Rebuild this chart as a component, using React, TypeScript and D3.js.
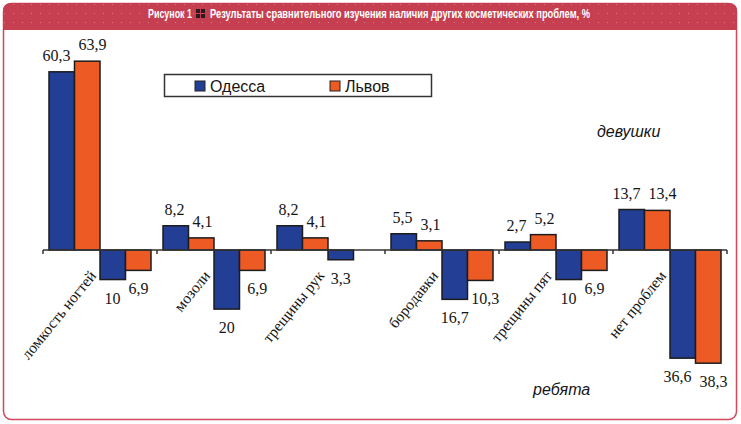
import React from "react";
import * as d3 from "d3";

// categories along the axis
const categories = [
  "ломкость ногтей",
  "мозоли",
  "трещины рук",
  "бородавки",
  "трещины пят",
  "нет проблем",
];
// girls (drawn upward)
const girlsOdessa = [60.3, 8.2, 8.2, 5.5, 2.7, 13.7];
const girlsLviv = [63.9, 4.1, 4.1, 3.1, 5.2, 13.4];
// boys (drawn downward)
const boysOdessa = [10, 20, 3.3, 16.7, 10, 36.6];
const boysLviv = [6.9, 6.9, 0, 10.3, 6.9, 38.3];

const cities = ["Одесса", "Львов"];
const cityColors = ["#233e95", "#ee5a24"];

const W = 741;
const H = 424;
const SERIF = "'Times New Roman', 'Liberation Serif', Times, 'DejaVu Serif', serif";

const fmt = (v: number) => String(v).replace(".", ",");
const labelWidth = (s: string) =>
  s.split("").reduce((a, c) => a + (c === "," ? 4 : 8), 0);

export default function App() {
  const x = d3.scaleBand().domain(categories).range([43, 727]);
  const inner = d3
    .scaleBand()
    .domain(["go", "gl", "bo", "bl"])
    .range([0, x.bandwidth()])
    .paddingInner(0)
    .paddingOuter(0.235);
  const y = d3
    .scaleLinear()
    .domain([-40, 70])
    .range([250 + 40 * 2.955, 250 - 70 * 2.955]);
  const y0 = y(0);

  const series = [
    { key: "go", values: girlsOdessa, sign: 1, color: cityColors[0] },
    { key: "gl", values: girlsLviv, sign: 1, color: cityColors[1] },
    { key: "bo", values: boysOdessa, sign: -1, color: cityColors[0] },
    { key: "bl", values: boysLviv, sign: -1, color: cityColors[1] },
  ];

  const bars: any[] = [];
  const labels: any[] = [];
  categories.forEach((c, i) => {
    const pair = (a: any, b: any) => {
      const lab = [a, b].map((s) => {
        const v = s.values[i];
        if (!v) return null;
        const cx = (x(c) as number) + (inner(s.key) as number) + inner.bandwidth() / 2;
        const base = s.sign > 0 ? y(v) - 11 : y(-v) + 24;
        return { text: fmt(v), cx, base, w: labelWidth(fmt(v)) };
      });
      const [la, lb] = lab;
      if (la && lb) {
        if (Math.abs(la.base - lb.base) < 13) {
          // push overlapping neighbours apart
          const need = (la.w + lb.w) / 2 + 8;
          const sep = lb.cx - la.cx;
          if (sep < need) {
            const s = (need - sep) / 2;
            la.cx -= s;
            lb.cx += s;
          }
        } else if (a.sign < 0 && la.base > lb.base) {
          // shorter right bar: keep its label clear of the left bar
          lb.cx += 5;
        }
      }
      lab.forEach((l) => l && labels.push(l));
    };
    pair(series[0], series[1]);
    pair(series[2], series[3]);
    series.forEach((s) => {
      const v = s.values[i];
      if (!v) return;
      const sv = s.sign * v;
      bars.push({
        x: (x(c) as number) + (inner(s.key) as number),
        y: Math.min(y(sv), y0),
        h: Math.abs(y(sv) - y0),
        color: s.color,
      });
    });
  });

  const ticks = [...categories.map((c) => x(c) as number), 727];

  return (
    <div style={{ position: "absolute", left: 0, top: 0 }}>
      <svg width={W} height={H} style={{ display: "block", background: "#fff" }}>
        <defs>
          <pattern id="dots" width="9" height="9" patternUnits="userSpaceOnUse">
            <circle cx="4.5" cy="4.5" r="0.6" fill="#fff" opacity="0.35" />
          </pattern>
        </defs>
        {/* frame and header */}
        <rect x={3.5} y={3.5} width={733} height={416} rx={8} fill="#fff" stroke="#d24a5c" strokeWidth={1.5} />
        <path d="M3,30 V11 Q3,3 11,3 H729 Q737,3 737,11 V30 Z" fill="#c53f50" />
        <path d="M3,30 V11 Q3,3 11,3 H729 Q737,3 737,11 V30 Z" fill="url(#dots)" />
        <g fontFamily="'Liberation Sans Narrow', 'Liberation Sans', sans-serif" fontWeight="bold" fontSize={12.5} fill="#fff">
          <text x={148} y={18} textLength={44} lengthAdjust="spacingAndGlyphs">Рисунок 1</text>
          <text x={210} y={18} textLength={380} lengthAdjust="spacingAndGlyphs">
            Результаты сравнительного изучения наличия других косметических проблем, %
          </text>
        </g>
        <g fill="#2b1b1e">
          <rect x={196} y={9} width={4} height={4} />
          <rect x={201} y={9} width={4} height={4} />
          <rect x={196} y={14} width={4} height={4} />
          <rect x={201} y={14} width={4} height={4} />
        </g>

        {/* bars */}
        {bars.map((b, i) => (
          <rect key={i} x={b.x} y={b.y} width={inner.bandwidth()} height={b.h} fill={b.color} stroke="#1c1c1c" strokeWidth={1.5} />
        ))}

        {/* axis */}
        <line x1={43} x2={727} y1={y0} y2={y0} stroke="#333" strokeWidth={1.5} />
        {ticks.map((t, i) => (
          <line key={i} x1={t} x2={t} y1={y0} y2={y0 + 4} stroke="#333" strokeWidth={1.5} />
        ))}

        {/* value labels */}
        <g fontFamily={SERIF} fontSize={16} fill="#151515" textAnchor="middle">
          {labels.map((l, i) => (
            <text key={i} x={l.cx} y={l.base}>{l.text}</text>
          ))}
        </g>

        {/* category labels */}
        <g fontFamily={SERIF} fontSize={15.5} fill="#151515" textAnchor="end">
          {categories.map((c) => (
            <text
              key={c}
              transform={`translate(${(x(c) as number) + x.bandwidth() / 2 - 3},${y0 + 26}) rotate(-51)`}
            >
              {c}
            </text>
          ))}
        </g>

        {/* legend */}
        <rect x={164.5} y={74.5} width={267} height={22} fill="#fff" stroke="#333" strokeWidth={1.5} />
        {cities.map((name, i) => (
          <g key={name} transform={`translate(${195 + i * 135},81)`}>
            <rect width={10} height={10} fill={cityColors[i]} stroke="#222" strokeWidth={1} />
            <text x={15} y={11} fontFamily="'Liberation Sans', Arial, sans-serif" fontSize={16} fill="#151515">
              {name}
            </text>
          </g>
        ))}

        {/* group captions */}
        <g fontFamily="'Liberation Sans', Arial, sans-serif" fontSize={16} fontStyle="italic" fill="#151515">
          <text x={597} y={137}>девушки</text>
          <text x={533} y={395}>ребята</text>
        </g>
      </svg>
    </div>
  );
}
